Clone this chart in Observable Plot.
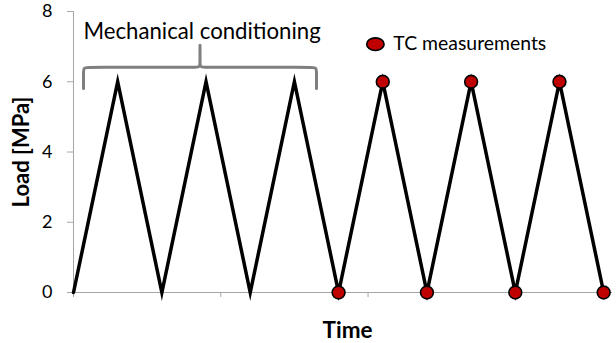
<!DOCTYPE html>
<html>
<head>
<meta charset="utf-8">
<script src="https://cdn.jsdelivr.net/npm/d3@7"></script>
<script src="https://cdn.jsdelivr.net/npm/@observablehq/plot@0.6"></script>
<style>
  html, body { margin: 0; padding: 0; background: #fff; }
  #chart { width: 616px; height: 343px; }
</style>
</head>
<body>
<div id="chart"></div>
<script>
// Loading cycle: time steps and applied load (MPa)
const time = [0, 3, 6, 9, 12, 15, 18, 21, 24, 27, 30, 33, 36];
const load = [0, 6, 0, 6, 0, 6, 0, 6, 0, 6, 0, 6, 0];

// Points where thermal-conductivity (TC) measurements were taken
const tcTime = [18, 21, 24, 27, 30, 33, 36];
const tcLoad = [0, 6, 0, 6, 0, 6, 0];

// Axis ticks
const yTicks = [0, 2, 4, 6, 8];
const xTicks = [0, 10, 20, 30];

// Labels
const xLabel = "Time";
const yLabel = "Load [MPa]";
const braceLabel = "Mechanical conditioning";
const legendLabel = "TC measurements";

// Brace spanning the conditioning cycles (data units)
const braceStart = 0.68, braceEnd = 16.5, braceTip = 8.59;
const braceFoot = 5.81, braceBar = 6.41, bracePeak = 7.04;
const cornerX = 0.35, cornerY = 0.15;

// Legend anchor (data units)
const legendX = 20.5, legendY = 7.07;

const series = time.map((t, i) => ({time: t, load: load[i]}));
const tc = tcTime.map((t, i) => ({time: t, load: tcLoad[i]}));

// Control points for a curly brace, drawn with a B-spline
const bracePts = [
  [braceStart, braceFoot], [braceStart, braceFoot], [braceStart, braceFoot],
  [braceStart, braceBar - cornerY], [braceStart, braceBar], [braceStart + cornerX, braceBar],
  [braceTip - cornerX, braceBar], [braceTip, braceBar], [braceTip, braceBar + cornerY],
  [braceTip, bracePeak], [braceTip, bracePeak], [braceTip, bracePeak],
  [braceTip, braceBar + cornerY], [braceTip, braceBar], [braceTip + cornerX, braceBar],
  [braceEnd - cornerX, braceBar], [braceEnd, braceBar], [braceEnd, braceBar - cornerY],
  [braceEnd, braceFoot], [braceEnd, braceFoot], [braceEnd, braceFoot]
].map(([x, y]) => ({x, y}));

// Elliptical legend symbol
const ellipse = {
  draw(context, size) {
    const r = Math.sqrt(size / Math.PI);
    const rx = r * 1.38, ry = r;
    const k = 0.5523;
    context.moveTo(rx, 0);
    context.bezierCurveTo(rx, ry * k, rx * k, ry, 0, ry);
    context.bezierCurveTo(-rx * k, ry, -rx, ry * k, -rx, 0);
    context.bezierCurveTo(-rx, -ry * k, -rx * k, -ry, 0, -ry);
    context.bezierCurveTo(rx * k, -ry, rx, -ry * k, rx, 0);
    context.closePath();
  }
};

const axisGray = "#a6a6a6";

const chart = Plot.plot({
  width: 616,
  height: 343,
  marginLeft: 73,
  marginRight: 4,
  marginTop: 11,
  marginBottom: 51,
  style: {fontFamily: "Lato, sans-serif", fontSize: "18px", color: "#000", background: "#fff"},
  x: {domain: [0, 36.6]},
  y: {domain: [0, 8]},
  marks: [
    Plot.ruleX([0], {stroke: axisGray, strokeWidth: 1}),
    Plot.ruleY([0], {stroke: axisGray, strokeWidth: 1}),
    Plot.axisY({ticks: yTicks, tickSize: 6, tickPadding: 15, stroke: axisGray, label: null, fontSize: 18}),
    Plot.axisX({ticks: xTicks, tickSize: 5, tickFormat: () => "", stroke: axisGray, label: null}),
    Plot.line(series, {x: "time", y: "load", stroke: "#000", strokeWidth: 3.5, strokeLinejoin: "miter", strokeMiterlimit: 10}),
    Plot.dot(tc, {x: "time", y: "load", r: 6.4, fill: "#c00000", stroke: "#000", strokeWidth: 1.6}),
    Plot.line(bracePts, {x: "x", y: "y", curve: "basis", stroke: "#7f7f7f", strokeWidth: 3}),
    Plot.text([braceLabel], {x: braceStart, y: 7.21, text: d => d, textAnchor: "start", lineAnchor: "bottom", fontSize: 22.2, fill: "#000"}),
    Plot.dot([legendLabel], {x: legendX, y: legendY, symbol: ellipse, r: 6.3, fill: "#c00000", stroke: "#000", strokeWidth: 1.6}),
    Plot.text([legendLabel], {x: legendX + 1.22, y: legendY, text: d => d, textAnchor: "start", lineAnchor: "middle", fontSize: 19.4, fill: "#000"}),
    Plot.text([xLabel], {frameAnchor: "bottom", text: d => d, dx: 4.5, dy: 45, lineAnchor: "bottom", fontSize: 22.5, fontWeight: "bold", fill: "#000"}),
    Plot.text([yLabel], {frameAnchor: "left", text: d => d, dx: -52, rotate: -90, textAnchor: "middle", lineAnchor: "middle", fontSize: 22, fontWeight: "bold", fill: "#000"})
  ]
});

document.getElementById("chart").appendChild(chart);
</script>
</body>
</html>
